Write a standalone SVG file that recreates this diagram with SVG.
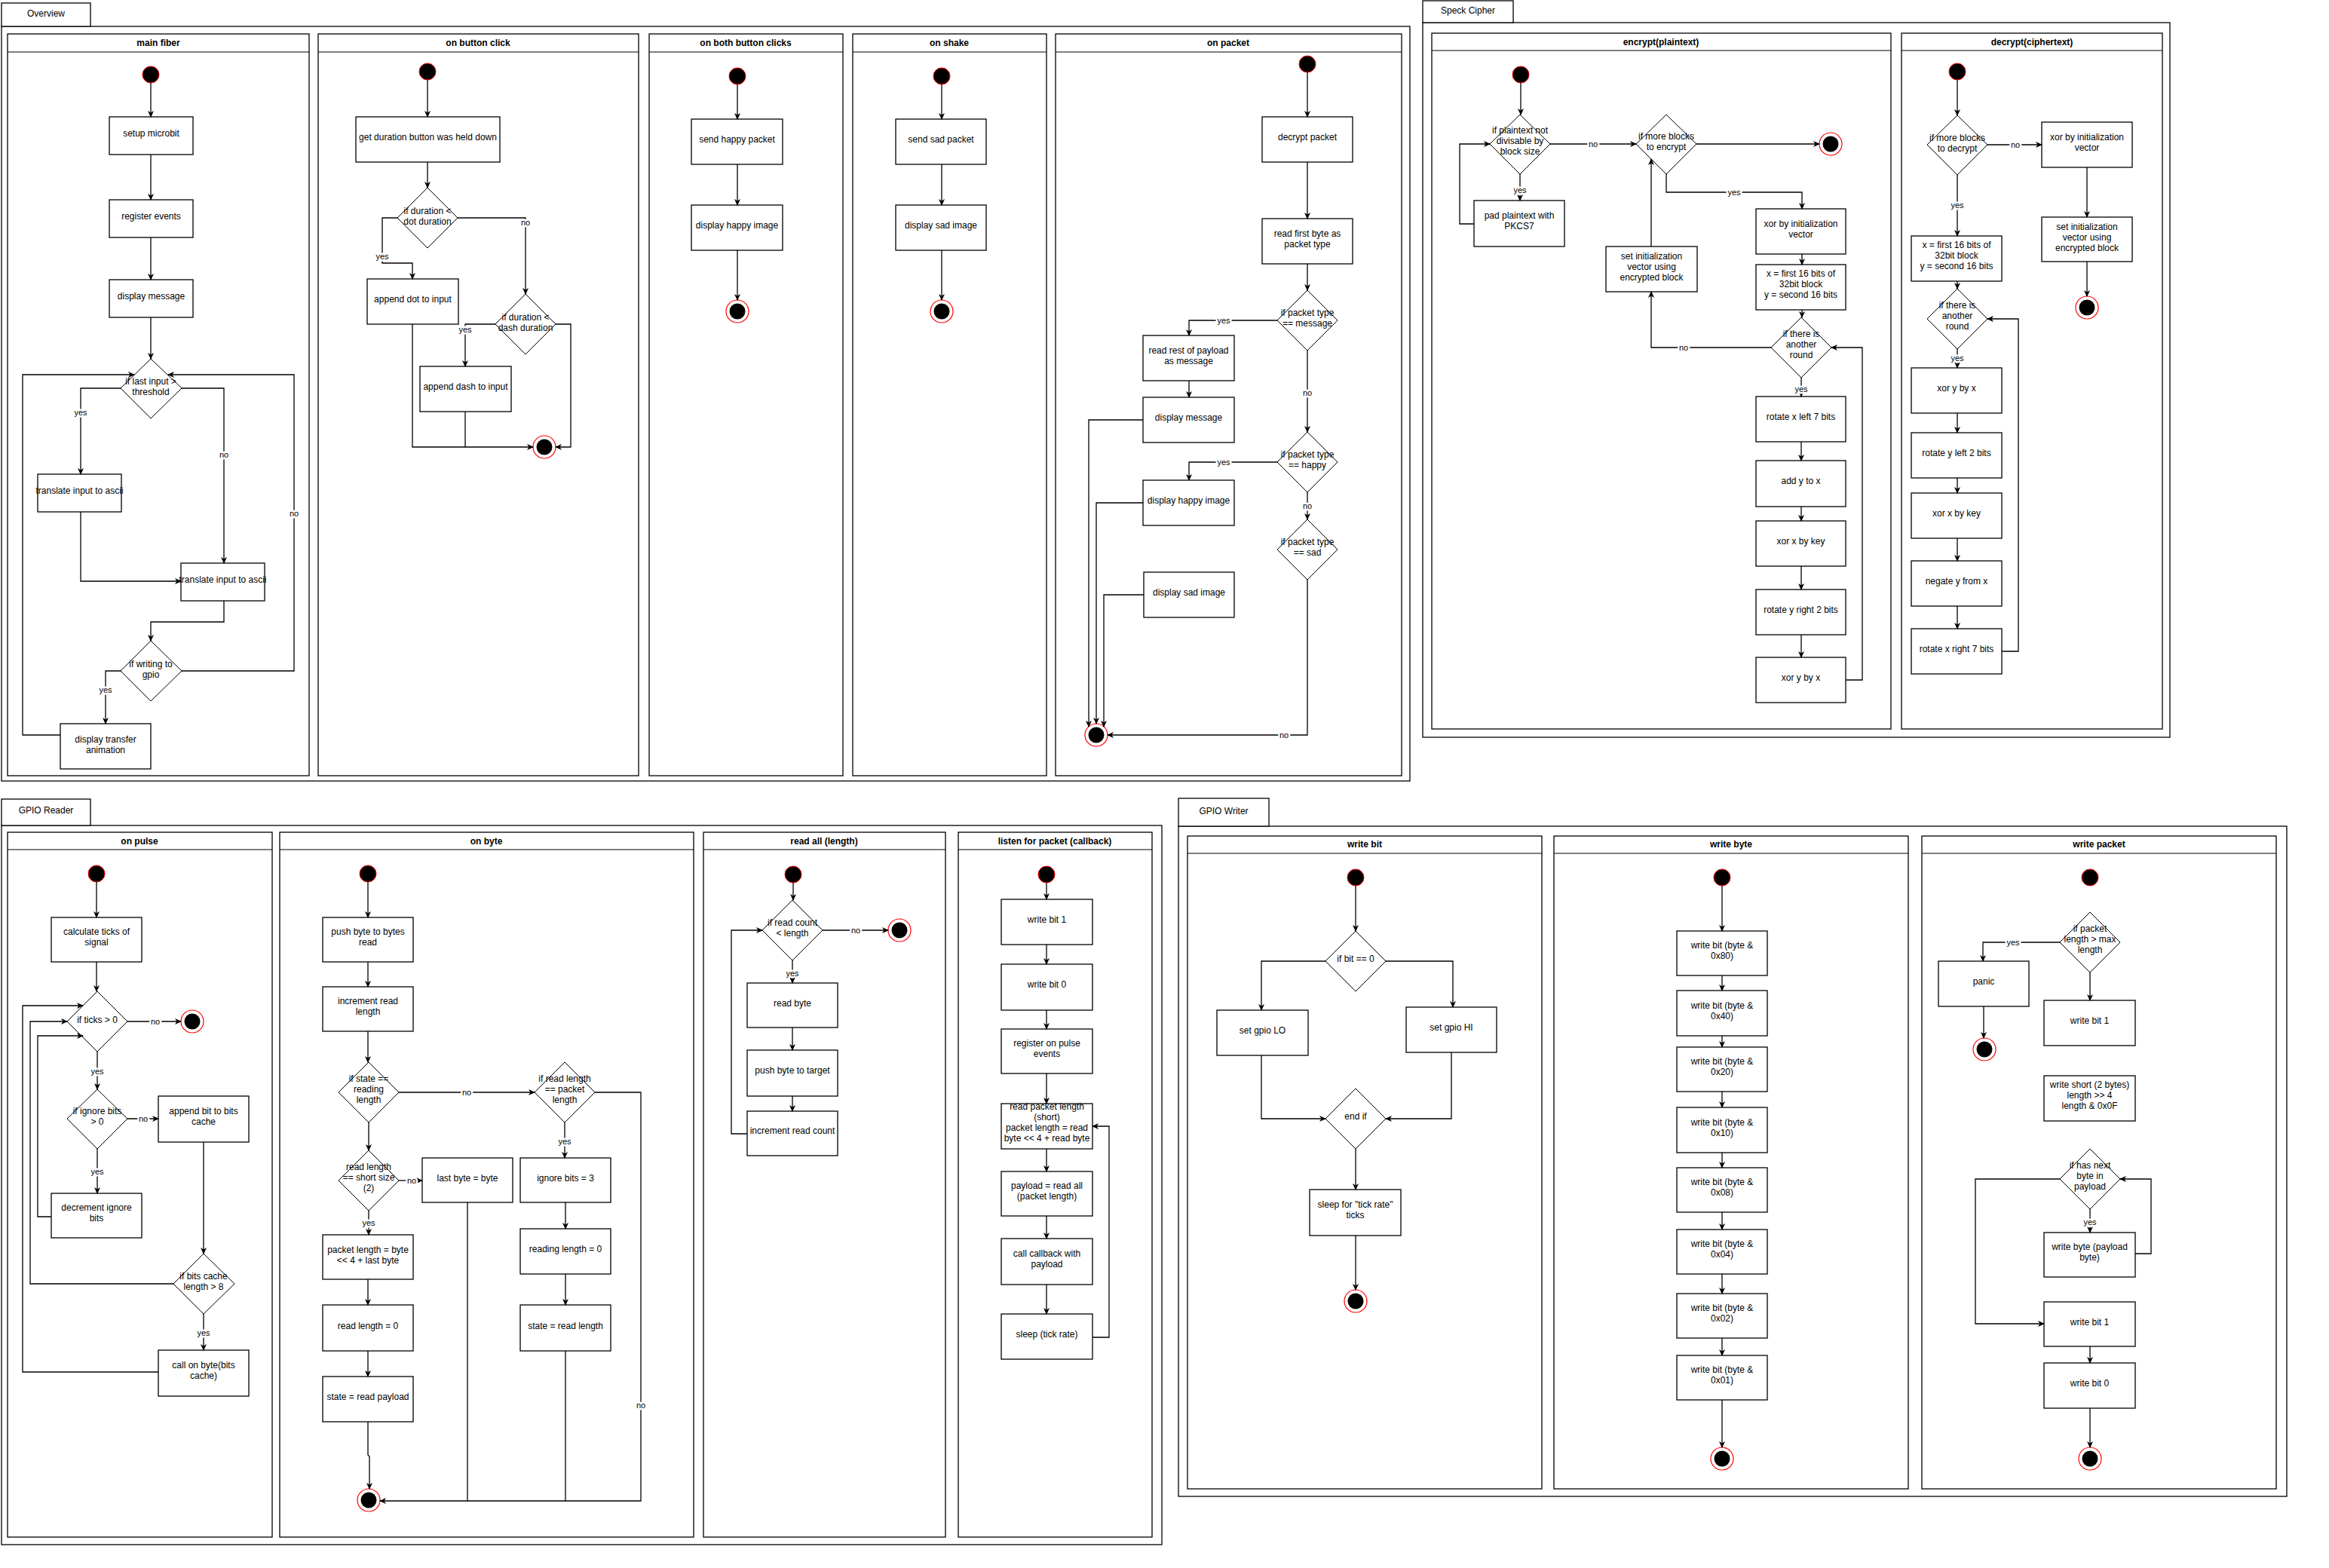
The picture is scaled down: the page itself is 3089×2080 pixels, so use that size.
<svg xmlns="http://www.w3.org/2000/svg" width="3089" height="2080" viewBox="0 0 3089 2080">
<defs>
<marker id="a" markerUnits="userSpaceOnUse" markerWidth="10" markerHeight="8" refX="8" refY="4" orient="auto"><path d="M0,0 L9,4 L0,8 L2.5,4 z" fill="#000"/></marker>
<style>
.fr{fill:none;stroke:#000;stroke-width:1.3}
.tab{fill:#fff;stroke:#000;stroke-width:1.3}
.ln{fill:#fff;stroke:#000;stroke-width:1.3}
.hl{stroke:#000;stroke-width:1}
.b{fill:#fff;stroke:#000;stroke-width:1.3}
.d{fill:#fff;stroke:#000;stroke-width:1}
text{font-family:"Liberation Sans",Arial,sans-serif;font-size:12px;fill:#000;text-anchor:middle}
.h{font-weight:bold}
.lb{font-size:11px;stroke:#fff;stroke-width:5;paint-order:stroke;stroke-linejoin:round}
.c path{fill:none;stroke:#000;stroke-width:1.3;marker-end:url(#a)}
.c path.n{marker-end:none}
.s{fill:#000;stroke:#f00;stroke-width:1}
.eo{fill:#fff;stroke:#f00;stroke-width:1.2}
.ei{fill:#000}
</style>
</defs>
<rect width="3089" height="2080" fill="#fff"/>

<!-- Frames -->
<g id="frame-overview">
<rect class="fr" x="2" y="35" width="1868" height="1001"/>
<rect class="tab" x="2" y="4" width="118" height="31"/><text x="61" y="22">Overview</text>
</g>
<g id="frame-speck">
<rect class="fr" x="1887" y="30" width="991" height="948"/>
<rect class="tab" x="1887" y="1" width="120" height="29"/><text x="1947" y="18">Speck Cipher</text>
</g>
<g id="frame-reader">
<rect class="fr" x="2" y="1095" width="1539" height="954"/>
<rect class="tab" x="2" y="1060" width="118" height="35"/><text x="61" y="1079">GPIO Reader</text>
</g>
<g id="frame-writer">
<rect class="fr" x="1563" y="1096" width="1470" height="889"/>
<rect class="tab" x="1563" y="1059" width="120" height="37"/><text x="1623" y="1080">GPIO Writer</text>
</g>

<!-- Lanes -->
<g id="lane-main"><rect class="ln" x="10" y="45" width="400" height="984"/><line class="hl" x1="10" y1="69" x2="410" y2="69"/><text class="h" x="210" y="61">main fiber</text></g>
<g id="lane-click"><rect class="ln" x="422" y="45" width="425" height="984"/><line class="hl" x1="422" y1="69" x2="847" y2="69"/><text class="h" x="634" y="61">on button click</text></g>
<g id="lane-both"><rect class="ln" x="861" y="45" width="257" height="984"/><line class="hl" x1="861" y1="69" x2="1118" y2="69"/><text class="h" x="989" y="61">on both button clicks</text></g>
<g id="lane-shake"><rect class="ln" x="1131" y="45" width="257" height="984"/><line class="hl" x1="1131" y1="69" x2="1388" y2="69"/><text class="h" x="1259" y="61">on shake</text></g>
<g id="lane-packet"><rect class="ln" x="1400" y="45" width="459" height="984"/><line class="hl" x1="1400" y1="69" x2="1859" y2="69"/><text class="h" x="1629" y="61">on packet</text></g>
<g id="lane-encrypt"><rect class="ln" x="1899" y="44" width="609" height="923"/><line class="hl" x1="1899" y1="67" x2="2508" y2="67"/><text class="h" x="2203" y="60">encrypt(plaintext)</text></g>
<g id="lane-decrypt"><rect class="ln" x="2522" y="44" width="346" height="923"/><line class="hl" x1="2522" y1="67" x2="2868" y2="67"/><text class="h" x="2695" y="60">decrypt(ciphertext)</text></g>
<g id="lane-pulse"><rect class="ln" x="10" y="1104" width="351" height="935"/><line class="hl" x1="10" y1="1127" x2="361" y2="1127"/><text class="h" x="185" y="1120">on pulse</text></g>
<g id="lane-byte"><rect class="ln" x="371" y="1104" width="549" height="935"/><line class="hl" x1="371" y1="1127" x2="920" y2="1127"/><text class="h" x="645" y="1120">on byte</text></g>
<g id="lane-readall"><rect class="ln" x="933" y="1104" width="321" height="935"/><line class="hl" x1="933" y1="1127" x2="1254" y2="1127"/><text class="h" x="1093" y="1120">read all (length)</text></g>
<g id="lane-listen"><rect class="ln" x="1271" y="1104" width="257" height="935"/><line class="hl" x1="1271" y1="1127" x2="1528" y2="1127"/><text class="h" x="1399" y="1120">listen for packet (callback)</text></g>
<g id="lane-writebit"><rect class="ln" x="1575" y="1109" width="470" height="866"/><line class="hl" x1="1575" y1="1132" x2="2045" y2="1132"/><text class="h" x="1810" y="1124">write bit</text></g>
<g id="lane-writebyte"><rect class="ln" x="2061" y="1109" width="470" height="866"/><line class="hl" x1="2061" y1="1132" x2="2531" y2="1132"/><text class="h" x="2296" y="1124">write byte</text></g>
<g id="lane-writepacket"><rect class="ln" x="2549" y="1109" width="470" height="866"/><line class="hl" x1="2549" y1="1132" x2="3019" y2="1132"/><text class="h" x="2784" y="1124">write packet</text></g>

<!-- Nodes: main fiber -->
<g id="mf-start"><circle class="s" cx="200" cy="99" r="11"/></g>
<g id="mf-setup"><rect class="b" x="145" y="155" width="111" height="50"/><text x="200.5" y="181">setup microbit</text></g>
<g id="mf-register"><rect class="b" x="145" y="265" width="111" height="50"/><text x="200.5" y="291">register events</text></g>
<g id="mf-display"><rect class="b" x="145" y="371" width="111" height="50"/><text x="200.5" y="397">display message</text></g>
<g id="mf-d1"><polygon class="d" points="200,476 241,515 200,555 160,515"/><text x="200" y="510">if last input &gt;</text><text x="200" y="524">threshold</text></g>
<g id="mf-tr1"><rect class="b" x="50" y="629" width="111" height="50"/><text x="105.5" y="655">translate input to ascii</text></g>
<g id="mf-tr2"><rect class="b" x="240" y="747" width="111" height="50"/><text x="295.5" y="773">translate input to ascii</text></g>
<g id="mf-d2"><polygon class="d" points="200,850 241,890 200,930 160,890"/><text x="200" y="885">if writing to</text><text x="200" y="899">gpio</text></g>
<g id="mf-anim"><rect class="b" x="80" y="960" width="120" height="60"/><text x="140" y="985">display transfer</text><text x="140" y="999">animation</text></g>

<!-- on button click -->
<g id="bc-start"><circle class="s" cx="567" cy="95" r="11"/></g>
<g id="bc-get"><rect class="b" x="472" y="155" width="191" height="60"/><text x="567.5" y="186">get duration button was held down</text></g>
<g id="bc-d1"><polygon class="d" points="567,249 607,289 567,329 527,289"/><text x="567" y="284">if duration &lt;</text><text x="567" y="298">dot duration</text></g>
<g id="bc-dot"><rect class="b" x="487" y="370" width="121" height="60"/><text x="547.5" y="401">append dot to input</text></g>
<g id="bc-d2"><polygon class="d" points="697,390 737,430 697,470 657,430"/><text x="697" y="425">if duration &lt;</text><text x="697" y="439">dash duration</text></g>
<g id="bc-dash"><rect class="b" x="557" y="486" width="121" height="60"/><text x="617.5" y="517">append dash to input</text></g>
<g id="bc-end"><circle class="eo" cx="722" cy="593" r="15"/><circle class="ei" cx="722" cy="593" r="10.5"/></g>

<!-- on both button clicks -->
<g id="bb-start"><circle class="s" cx="978" cy="101" r="11"/></g>
<g id="bb-send"><rect class="b" x="917" y="158" width="121" height="60"/><text x="977.5" y="189">send happy packet</text></g>
<g id="bb-disp"><rect class="b" x="917" y="272" width="121" height="60"/><text x="977.5" y="303">display happy image</text></g>
<g id="bb-end"><circle class="eo" cx="978" cy="413" r="15"/><circle class="ei" cx="978" cy="413" r="10.5"/></g>

<!-- on shake -->
<g id="sh-start"><circle class="s" cx="1249" cy="101" r="11"/></g>
<g id="sh-send"><rect class="b" x="1188" y="158" width="120" height="60"/><text x="1248" y="189">send sad packet</text></g>
<g id="sh-disp"><rect class="b" x="1188" y="272" width="120" height="60"/><text x="1248" y="303">display sad image</text></g>
<g id="sh-end"><circle class="eo" cx="1249" cy="413" r="15"/><circle class="ei" cx="1249" cy="413" r="10.5"/></g>

<!-- on packet -->
<g id="op-start"><circle class="s" cx="1734" cy="85" r="11"/></g>
<g id="op-decrypt"><rect class="b" x="1674" y="155" width="120" height="60"/><text x="1734" y="186">decrypt packet</text></g>
<g id="op-readfirst"><rect class="b" x="1674" y="290" width="120" height="60"/><text x="1734" y="314">read first byte as</text><text x="1734" y="328">packet type</text></g>
<g id="op-d1"><polygon class="d" points="1734,385 1774,425 1734,465 1694,425"/><text x="1734" y="419">if packet type</text><text x="1734" y="433">== message</text></g>
<g id="op-rest"><rect class="b" x="1516" y="445" width="121" height="60"/><text x="1576.5" y="469">read rest of payload</text><text x="1576.5" y="483">as message</text></g>
<g id="op-dmsg"><rect class="b" x="1516" y="527" width="121" height="60"/><text x="1576.5" y="558">display message</text></g>
<g id="op-d2"><polygon class="d" points="1734,573 1774,613 1734,653 1694,613"/><text x="1734" y="607">if packet type</text><text x="1734" y="621">== happy</text></g>
<g id="op-happy"><rect class="b" x="1516" y="637" width="121" height="60"/><text x="1576.5" y="668">display happy image</text></g>
<g id="op-d3"><polygon class="d" points="1734,689 1774,729 1734,769 1694,729"/><text x="1734" y="723">if packet type</text><text x="1734" y="737">== sad</text></g>
<g id="op-sad"><rect class="b" x="1517" y="759" width="120" height="60"/><text x="1577" y="790">display sad image</text></g>
<g id="op-end"><circle class="eo" cx="1454" cy="975" r="15"/><circle class="ei" cx="1454" cy="975" r="10.5"/></g>

<!-- encrypt -->
<g id="en-start"><circle class="s" cx="2017" cy="99" r="11"/></g>
<g id="en-d1"><polygon class="d" points="2016,152 2056,191 2016,231 1976,191"/><text x="2016" y="177">if plaintext not</text><text x="2016" y="191">divisable by</text><text x="2016" y="205">block size</text></g>
<g id="en-pad"><rect class="b" x="1955" y="266" width="120" height="61"/><text x="2015" y="290">pad plaintext with</text><text x="2015" y="304">PKCS7</text></g>
<g id="en-d2"><polygon class="d" points="2210,152 2250,191 2210,231 2170,191"/><text x="2210" y="185">if more blocks</text><text x="2210" y="199">to encrypt</text></g>
<g id="en-end"><circle class="eo" cx="2428" cy="191" r="15"/><circle class="ei" cx="2428" cy="191" r="10.5"/></g>
<g id="en-setiv"><rect class="b" x="2130" y="327" width="121" height="60"/><text x="2190.5" y="344">set initialization</text><text x="2190.5" y="358">vector using</text><text x="2190.5" y="372">encrypted block</text></g>
<g id="en-xoriv"><rect class="b" x="2329" y="277" width="119" height="60"/><text x="2388.5" y="301">xor by initialization</text><text x="2388.5" y="315">vector</text></g>
<g id="en-split"><rect class="b" x="2329" y="351" width="119" height="60"/><text x="2388.5" y="367">x = first 16 bits of</text><text x="2388.5" y="381">32bit block</text><text x="2388.5" y="395">y = second 16 bits</text></g>
<g id="en-d3"><polygon class="d" points="2389,421 2429,461 2389,501 2349,461"/><text x="2389" y="447">if there is</text><text x="2389" y="461">another</text><text x="2389" y="475">round</text></g>
<g id="en-rotx"><rect class="b" x="2329" y="526" width="119" height="60"/><text x="2388.5" y="557">rotate x left 7 bits</text></g>
<g id="en-add"><rect class="b" x="2329" y="611" width="119" height="61"/><text x="2388.5" y="642">add y to x</text></g>
<g id="en-xork"><rect class="b" x="2329" y="691" width="119" height="60"/><text x="2388.5" y="722">xor x by key</text></g>
<g id="en-roty"><rect class="b" x="2329" y="782" width="119" height="60"/><text x="2388.5" y="813">rotate y right 2 bits</text></g>
<g id="en-xory"><rect class="b" x="2329" y="872" width="119" height="60"/><text x="2388.5" y="903">xor y by x</text></g>

<!-- decrypt -->
<g id="de-start"><circle class="s" cx="2596" cy="95" r="11"/></g>
<g id="de-d1"><polygon class="d" points="2596,153 2636,192 2596,232 2556,192"/><text x="2596" y="187">if more blocks</text><text x="2596" y="201">to decrypt</text></g>
<g id="de-xoriv"><rect class="b" x="2708" y="162" width="120" height="60"/><text x="2768" y="186">xor by initialization</text><text x="2768" y="200">vector</text></g>
<g id="de-setiv"><rect class="b" x="2708" y="288" width="120" height="59"/><text x="2768" y="305">set initialization</text><text x="2768" y="319">vector using</text><text x="2768" y="333">encrypted block</text></g>
<g id="de-end"><circle class="eo" cx="2768" cy="408" r="15"/><circle class="ei" cx="2768" cy="408" r="10.5"/></g>
<g id="de-split"><rect class="b" x="2535" y="313" width="120" height="60"/><text x="2595" y="329">x = first 16 bits of</text><text x="2595" y="343">32bit block</text><text x="2595" y="357">y = second 16 bits</text></g>
<g id="de-d2"><polygon class="d" points="2596,383 2636,423 2596,463 2556,423"/><text x="2596" y="409">if there is</text><text x="2596" y="423">another</text><text x="2596" y="437">round</text></g>
<g id="de-xory"><rect class="b" x="2535" y="488" width="120" height="60"/><text x="2595" y="519">xor y by x</text></g>
<g id="de-roty"><rect class="b" x="2535" y="574" width="120" height="60"/><text x="2595" y="605">rotate y left 2 bits</text></g>
<g id="de-xork"><rect class="b" x="2535" y="654" width="120" height="60"/><text x="2595" y="685">xor x by key</text></g>
<g id="de-neg"><rect class="b" x="2535" y="744" width="120" height="60"/><text x="2595" y="775">negate y from x</text></g>
<g id="de-rotx"><rect class="b" x="2535" y="834" width="120" height="60"/><text x="2595" y="865">rotate x right 7 bits</text></g>

<!-- on pulse -->
<g id="pu-start"><circle class="s" cx="128" cy="1159" r="11"/></g>
<g id="pu-calc"><rect class="b" x="68" y="1217" width="120" height="59"/><text x="128" y="1240">calculate ticks of</text><text x="128" y="1254">signal</text></g>
<g id="pu-d1"><polygon class="d" points="129,1315 169,1355 129,1395 89,1355"/><text x="129" y="1357">if ticks &gt; 0</text></g>
<g id="pu-end"><circle class="eo" cx="255" cy="1355" r="15"/><circle class="ei" cx="255" cy="1355" r="10.5"/></g>
<g id="pu-d2"><polygon class="d" points="129,1445 169,1484 129,1524 89,1484"/><text x="129" y="1478">if ignore bits</text><text x="129" y="1492">&gt; 0</text></g>
<g id="pu-append"><rect class="b" x="210" y="1454" width="120" height="61"/><text x="270" y="1478">append bit to bits</text><text x="270" y="1492">cache</text></g>
<g id="pu-dec"><rect class="b" x="68" y="1583" width="120" height="59"/><text x="128" y="1606">decrement ignore</text><text x="128" y="1620">bits</text></g>
<g id="pu-d3"><polygon class="d" points="270,1663 311,1703 270,1743 230,1703"/><text x="270" y="1697">if bits cache</text><text x="270" y="1711">length &gt; 8</text></g>
<g id="pu-call"><rect class="b" x="210" y="1791" width="120" height="61"/><text x="270" y="1815">call on byte(bits</text><text x="270" y="1829">cache)</text></g>

<!-- on byte -->
<g id="ob-start"><circle class="s" cx="488" cy="1159" r="11"/></g>
<g id="ob-push"><rect class="b" x="428" y="1217" width="120" height="59"/><text x="488" y="1240">push byte to bytes</text><text x="488" y="1254">read</text></g>
<g id="ob-inc"><rect class="b" x="428" y="1309" width="120" height="59"/><text x="488" y="1332">increment read</text><text x="488" y="1346">length</text></g>
<g id="ob-d1"><polygon class="d" points="489,1409 529,1449 489,1489 449,1449"/><text x="489" y="1435">if state ==</text><text x="489" y="1449">reading</text><text x="489" y="1463">length</text></g>
<g id="ob-d2"><polygon class="d" points="749,1409 789,1449 749,1489 709,1449"/><text x="749" y="1435">if read length</text><text x="749" y="1449">== packet</text><text x="749" y="1463">length</text></g>
<g id="ob-d3"><polygon class="d" points="489,1526 529,1566 489,1606 449,1566"/><text x="489" y="1552">read length</text><text x="489" y="1566">== short size</text><text x="489" y="1580">(2)</text></g>
<g id="ob-last"><rect class="b" x="560" y="1536" width="120" height="59"/><text x="620" y="1567">last byte = byte</text></g>
<g id="ob-ignore"><rect class="b" x="690" y="1536" width="120" height="59"/><text x="750" y="1567">ignore bits = 3</text></g>
<g id="ob-readinglen"><rect class="b" x="690" y="1630" width="120" height="60"/><text x="750" y="1661">reading length = 0</text></g>
<g id="ob-statelen"><rect class="b" x="690" y="1731" width="120" height="61"/><text x="750" y="1763">state = read length</text></g>
<g id="ob-pktlen"><rect class="b" x="428" y="1638" width="120" height="59"/><text x="488" y="1662">packet length = byte</text><text x="488" y="1676">&lt;&lt; 4 + last byte</text></g>
<g id="ob-readlen"><rect class="b" x="428" y="1731" width="120" height="61"/><text x="488" y="1763">read length = 0</text></g>
<g id="ob-statepl"><rect class="b" x="428" y="1826" width="120" height="60"/><text x="488" y="1857">state = read payload</text></g>
<g id="ob-end"><circle class="eo" cx="489" cy="1990" r="15"/><circle class="ei" cx="489" cy="1990" r="10.5"/></g>

<!-- read all -->
<g id="ra-start"><circle class="s" cx="1052" cy="1160" r="11"/></g>
<g id="ra-d1"><polygon class="d" points="1051,1194 1091,1234 1051,1274 1011,1234"/><text x="1051" y="1228">if read count</text><text x="1051" y="1242">&lt; length</text></g>
<g id="ra-end"><circle class="eo" cx="1193" cy="1234" r="15"/><circle class="ei" cx="1193" cy="1234" r="10.5"/></g>
<g id="ra-read"><rect class="b" x="991" y="1304" width="120" height="59"/><text x="1051" y="1335">read byte</text></g>
<g id="ra-push"><rect class="b" x="991" y="1393" width="120" height="61"/><text x="1051" y="1424">push byte to target</text></g>
<g id="ra-inc"><rect class="b" x="991" y="1474" width="120" height="59"/><text x="1051" y="1504">increment read count</text></g>

<!-- listen -->
<g id="li-start"><circle class="s" cx="1388" cy="1160" r="11"/></g>
<g id="li-wb1"><rect class="b" x="1328" y="1193" width="121" height="60"/><text x="1388.5" y="1224">write bit 1</text></g>
<g id="li-wb0"><rect class="b" x="1328" y="1279" width="121" height="61"/><text x="1388.5" y="1310">write bit 0</text></g>
<g id="li-reg"><rect class="b" x="1328" y="1365" width="121" height="59"/><text x="1388.5" y="1388">register on pulse</text><text x="1388.5" y="1402">events</text></g>
<g id="li-readlen"><rect class="b" x="1328" y="1464" width="121" height="60"/><text x="1388.5" y="1472">read packet length</text><text x="1388.5" y="1486">(short)</text><text x="1388.5" y="1500">packet length = read</text><text x="1388.5" y="1514">byte &lt;&lt; 4 + read byte</text></g>
<g id="li-payload"><rect class="b" x="1328" y="1554" width="121" height="59"/><text x="1388.5" y="1577">payload = read all</text><text x="1388.5" y="1591">(packet length)</text></g>
<g id="li-call"><rect class="b" x="1328" y="1643" width="121" height="61"/><text x="1388.5" y="1667">call callback with</text><text x="1388.5" y="1681">payload</text></g>
<g id="li-sleep"><rect class="b" x="1328" y="1743" width="121" height="60"/><text x="1388.5" y="1774">sleep (tick rate)</text></g>

<!-- write bit -->
<g id="wb-start"><circle class="s" cx="1798" cy="1164" r="11"/></g>
<g id="wb-d1"><polygon class="d" points="1798,1235 1838,1275 1798,1315 1758,1275"/><text x="1798" y="1276">if bit == 0</text></g>
<g id="wb-lo"><rect class="b" x="1614" y="1340" width="121" height="60"/><text x="1674.5" y="1371">set gpio LO</text></g>
<g id="wb-hi"><rect class="b" x="1865" y="1336" width="120" height="60"/><text x="1925" y="1367">set gpio HI</text></g>
<g id="wb-d2"><polygon class="d" points="1798,1444 1838,1484 1798,1524 1758,1484"/><text x="1798" y="1485">end if</text></g>
<g id="wb-sleep"><rect class="b" x="1737" y="1578" width="121" height="61"/><text x="1797.5" y="1602">sleep for "tick rate"</text><text x="1797.5" y="1616">ticks</text></g>
<g id="wb-end"><circle class="eo" cx="1798" cy="1726" r="15"/><circle class="ei" cx="1798" cy="1726" r="10.5"/></g>

<!-- write byte -->
<g id="wy-start"><circle class="s" cx="2284" cy="1164" r="11"/></g>
<g id="wy-80"><rect class="b" x="2224" y="1235" width="120" height="59"/><text x="2284" y="1258">write bit (byte &amp;</text><text x="2284" y="1272">0x80)</text></g>
<g id="wy-40"><rect class="b" x="2224" y="1314" width="120" height="60"/><text x="2284" y="1338">write bit (byte &amp;</text><text x="2284" y="1352">0x40)</text></g>
<g id="wy-20"><rect class="b" x="2224" y="1389" width="120" height="59"/><text x="2284" y="1412">write bit (byte &amp;</text><text x="2284" y="1426">0x20)</text></g>
<g id="wy-10"><rect class="b" x="2224" y="1469" width="120" height="60"/><text x="2284" y="1493">write bit (byte &amp;</text><text x="2284" y="1507">0x10)</text></g>
<g id="wy-08"><rect class="b" x="2224" y="1549" width="120" height="59"/><text x="2284" y="1572">write bit (byte &amp;</text><text x="2284" y="1586">0x08)</text></g>
<g id="wy-04"><rect class="b" x="2224" y="1631" width="120" height="59"/><text x="2284" y="1654">write bit (byte &amp;</text><text x="2284" y="1668">0x04)</text></g>
<g id="wy-02"><rect class="b" x="2224" y="1716" width="120" height="59"/><text x="2284" y="1739">write bit (byte &amp;</text><text x="2284" y="1753">0x02)</text></g>
<g id="wy-01"><rect class="b" x="2224" y="1798" width="120" height="59"/><text x="2284" y="1821">write bit (byte &amp;</text><text x="2284" y="1835">0x01)</text></g>
<g id="wy-end"><circle class="eo" cx="2284" cy="1935" r="15"/><circle class="ei" cx="2284" cy="1935" r="10.5"/></g>

<!-- write packet -->
<g id="wp-start"><circle class="s" cx="2772" cy="1164" r="11"/></g>
<g id="wp-d1"><polygon class="d" points="2772,1210 2812,1250 2772,1290 2732,1250"/><text x="2772" y="1236">if packet</text><text x="2772" y="1250">length &gt; max</text><text x="2772" y="1264">length</text></g>
<g id="wp-panic"><rect class="b" x="2571" y="1275" width="120" height="60"/><text x="2631" y="1306">panic</text></g>
<g id="wp-pend"><circle class="eo" cx="2632" cy="1392" r="15"/><circle class="ei" cx="2632" cy="1392" r="10.5"/></g>
<g id="wp-wb1"><rect class="b" x="2711" y="1327" width="121" height="60"/><text x="2771.5" y="1358">write bit 1</text></g>
<g id="wp-short"><rect class="b" x="2711" y="1427" width="121" height="60"/><text x="2771.5" y="1443">write short (2 bytes)</text><text x="2771.5" y="1457">length &gt;&gt; 4</text><text x="2771.5" y="1471">length &amp; 0x0F</text></g>
<g id="wp-d2"><polygon class="d" points="2772,1524 2812,1564 2772,1604 2732,1564"/><text x="2772" y="1550">if has next</text><text x="2772" y="1564">byte in</text><text x="2772" y="1578">payload</text></g>
<g id="wp-wbyte"><rect class="b" x="2711" y="1635" width="121" height="59"/><text x="2771.5" y="1658">write byte (payload</text><text x="2771.5" y="1672">byte)</text></g>
<g id="wp-wb1b"><rect class="b" x="2711" y="1727" width="121" height="59"/><text x="2771.5" y="1758">write bit 1</text></g>
<g id="wp-wb0"><rect class="b" x="2711" y="1808" width="121" height="60"/><text x="2771.5" y="1839">write bit 0</text></g>
<g id="wp-end"><circle class="eo" cx="2772" cy="1935" r="15"/><circle class="ei" cx="2772" cy="1935" r="10.5"/></g>

<!-- Connectors -->
<g id="connectors" class="c">
<!-- main fiber -->
<path d="M200,110 V155"/>
<path d="M200,205 V265"/>
<path d="M200,315 V371"/>
<path d="M200,421 V476"/>
<path d="M160,515 H107 V629"/>
<path d="M241,515 H297 V747"/>
<path d="M107,679 V771 H240"/>
<path d="M297,797 V825 H200 V850"/>
<path d="M160,890 H140 V960"/>
<path d="M241,890 H390 V497 H223"/>
<path d="M80,975 H30 V497 H178"/>
<!-- button click -->
<path d="M567,106 V155"/>
<path d="M567,215 V249"/>
<path d="M527,289 H507 V349 H547 V370"/>
<path d="M607,289 H697 V390"/>
<path d="M657,430 H617 V486"/>
<path d="M547,430 V593 H707"/>
<path class="n" d="M617,546 V593"/>
<path d="M737,430 H757 V593 H737"/>
<!-- both -->
<path d="M978,112 V158"/>
<path d="M978,218 V272"/>
<path d="M978,332 V398"/>
<!-- shake -->
<path d="M1249,112 V158"/>
<path d="M1249,218 V272"/>
<path d="M1249,332 V398"/>
<!-- on packet -->
<path d="M1734,96 V155"/>
<path d="M1734,215 V290"/>
<path d="M1734,350 V385"/>
<path d="M1694,425 H1577 V445"/>
<path d="M1577,505 V527"/>
<path d="M1734,465 V573"/>
<path d="M1694,613 H1577 V637"/>
<path d="M1734,653 V689"/>
<path d="M1516,557 H1444 V964"/>
<path d="M1516,667 H1454 V960"/>
<path d="M1517,789 H1464 V964"/>
<path d="M1734,769 V975 H1469"/>
<!-- encrypt -->
<path d="M2017,110 V152"/>
<path d="M2016,231 V266"/>
<path d="M1955,297 H1936 V191 H1976"/>
<path d="M2056,191 H2170"/>
<path d="M2250,191 H2413"/>
<path d="M2210,231 V255 H2390 V277"/>
<path d="M2390,337 V351"/>
<path d="M2390,411 V421"/>
<path d="M2349,461 H2190 V387"/>
<path d="M2190,327 V211"/>
<path d="M2389,501 V526"/>
<path d="M2389,586 V611"/>
<path d="M2389,672 V691"/>
<path d="M2389,751 V782"/>
<path d="M2389,842 V872"/>
<path d="M2448,902 H2470 V461 H2429"/>
<!-- decrypt -->
<path d="M2596,106 V153"/>
<path d="M2636,192 H2708"/>
<path d="M2768,222 V288"/>
<path d="M2768,347 V393"/>
<path d="M2596,232 V313"/>
<path d="M2596,373 V383"/>
<path d="M2596,463 V488"/>
<path d="M2596,548 V574"/>
<path d="M2596,634 V654"/>
<path d="M2596,714 V744"/>
<path d="M2596,804 V834"/>
<path d="M2655,864 H2677 V423 H2636"/>
<!-- on pulse -->
<path d="M128,1170 V1217"/>
<path d="M128,1276 V1315"/>
<path d="M169,1355 H240"/>
<path d="M129,1395 V1445"/>
<path d="M169,1484 H210"/>
<path d="M129,1524 V1583"/>
<path d="M68,1614 H50 V1374 H110"/>
<path d="M270,1515 V1663"/>
<path d="M230,1703 H40 V1355 H89"/>
<path d="M270,1743 V1791"/>
<path d="M210,1820 H30 V1334 H110"/>
<!-- on byte -->
<path d="M488,1170 V1217"/>
<path d="M488,1276 V1309"/>
<path d="M488,1368 V1409"/>
<path d="M529,1449 H709"/>
<path d="M749,1489 V1536"/>
<path d="M750,1595 V1630"/>
<path d="M750,1690 V1731"/>
<path class="n" d="M750,1792 V1991"/>
<path d="M789,1449 H850 V1991 H504"/>
<path d="M489,1489 V1526"/>
<path d="M529,1566 H560"/>
<path class="n" d="M620,1595 V1991"/>
<path d="M489,1606 V1638"/>
<path d="M488,1697 V1731"/>
<path d="M488,1792 V1826"/>
<path d="M488,1886 V1930 L490,1932 V1975"/>
<!-- read all -->
<path d="M1052,1171 V1194"/>
<path d="M1091,1234 H1178"/>
<path d="M1051,1274 V1304"/>
<path d="M1051,1363 V1393"/>
<path d="M1051,1454 V1474"/>
<path d="M991,1504 H970 V1234 H1011"/>
<!-- listen -->
<path d="M1388,1171 V1193"/>
<path d="M1388,1253 V1279"/>
<path d="M1388,1340 V1365"/>
<path d="M1388,1424 V1464"/>
<path d="M1388,1524 V1554"/>
<path d="M1388,1613 V1643"/>
<path d="M1388,1704 V1743"/>
<path d="M1449,1774 H1471 V1494 H1449"/>
<!-- write bit -->
<path d="M1798,1175 V1235"/>
<path d="M1758,1275 H1673 V1340"/>
<path d="M1838,1275 H1927 V1336"/>
<path d="M1673,1400 V1484 H1758"/>
<path d="M1925,1396 V1484 H1838"/>
<path d="M1798,1524 V1578"/>
<path d="M1798,1639 V1711"/>
<!-- write byte -->
<path d="M2284,1175 V1235"/>
<path d="M2284,1294 V1314"/>
<path d="M2284,1374 V1389"/>
<path d="M2284,1448 V1469"/>
<path d="M2284,1529 V1549"/>
<path d="M2284,1608 V1631"/>
<path d="M2284,1690 V1716"/>
<path d="M2284,1775 V1798"/>
<path d="M2284,1857 V1920"/>
<!-- write packet -->
<path d="M2732,1250 H2630 V1275"/>
<path d="M2631,1335 V1377"/>
<path d="M2772,1290 V1327"/>
<path d="M2772,1604 V1635"/>
<path d="M2832,1663 H2853 V1564 H2812"/>
<path d="M2732,1564 H2620 V1756 H2711"/>
<path d="M2772,1786 V1808"/>
<path d="M2772,1868 V1920"/>
<!-- labels -->
<text class="lb" x="107" y="551">yes</text>
<text class="lb" x="297" y="607">no</text>
<text class="lb" x="140" y="919">yes</text>
<text class="lb" x="390" y="685">no</text>
<text class="lb" x="507" y="344">yes</text>
<text class="lb" x="697" y="299">no</text>
<text class="lb" x="617" y="441">yes</text>
<text class="lb" x="1623" y="429">yes</text>
<text class="lb" x="1734" y="525">no</text>
<text class="lb" x="1623" y="617">yes</text>
<text class="lb" x="1734" y="675">no</text>
<text class="lb" x="1703" y="979">no</text>
<text class="lb" x="2016" y="256">yes</text>
<text class="lb" x="2113" y="195">no</text>
<text class="lb" x="2300" y="259">yes</text>
<text class="lb" x="2233" y="465">no</text>
<text class="lb" x="2389" y="520">yes</text>
<text class="lb" x="2673" y="196">no</text>
<text class="lb" x="2596" y="276">yes</text>
<text class="lb" x="2596" y="479">yes</text>
<text class="lb" x="206" y="1359">no</text>
<text class="lb" x="129" y="1425">yes</text>
<text class="lb" x="190" y="1488">no</text>
<text class="lb" x="129" y="1558">yes</text>
<text class="lb" x="270" y="1772">yes</text>
<text class="lb" x="619" y="1453">no</text>
<text class="lb" x="749" y="1518">yes</text>
<text class="lb" x="850" y="1868">no</text>
<text class="lb" x="546" y="1570">no</text>
<text class="lb" x="489" y="1626">yes</text>
<text class="lb" x="1135" y="1238">no</text>
<text class="lb" x="1051" y="1295">yes</text>
<text class="lb" x="2670" y="1254">yes</text>
<text class="lb" x="2772" y="1625">yes</text>
</g>
</svg>
